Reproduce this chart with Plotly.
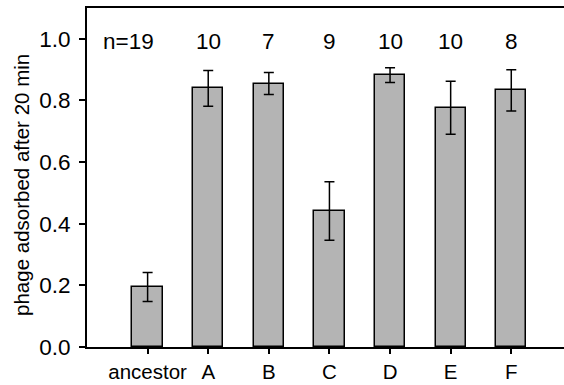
import plotly.graph_objects as go

# Phage adsorption after 20 min, ancestor vs evolved lines
categories = ["ancestor", "A", "B", "C", "D", "E", "F"]
adsorbed = [0.195, 0.839, 0.855, 0.441, 0.882, 0.776, 0.833]
err = [0.047, 0.058, 0.036, 0.095, 0.024, 0.086, 0.067]
n_reps = [19, 10, 7, 9, 10, 10, 8]
y_ticks = [0.0, 0.2, 0.4, 0.6, 0.8, 1.0]

FONT = "Liberation Sans, Arial, sans-serif"
xpos = list(range(len(categories)))

fig = go.Figure()
fig.add_trace(go.Bar(
    x=xpos, y=adsorbed, width=0.5,
    marker=dict(color="#b4b4b4", line=dict(color="black", width=1.5)),
    error_y=dict(type="data", array=err, symmetric=True,
                 color="black", thickness=1.5, width=5),
    showlegend=False,
))

# replicate counts above each bar
for i, n in enumerate(n_reps):
    if i == 0:
        fig.add_annotation(x=xpos[i], y=0.99, text=f"n={n}", showarrow=False,
                           xanchor="right", xshift=8, yanchor="middle",
                           font=dict(family=FONT, size=22.5, color="black"))
    else:
        fig.add_annotation(x=xpos[i], y=0.99, text=str(n), showarrow=False,
                           xanchor="center", yanchor="middle",
                           font=dict(family=FONT, size=22.5, color="black"))

# y-axis title
fig.add_annotation(xref="paper", yref="paper", x=0, y=0.478, xshift=-65,
                   text="phage adsorbed after 20 min", textangle=-90,
                   showarrow=False, xanchor="center", yanchor="middle",
                   font=dict(family=FONT, size=20.5, color="black"))

fig.update_layout(
    width=564, height=385,
    margin=dict(l=87, r=0, t=8, b=38),
    plot_bgcolor="white", paper_bgcolor="white",
    font=dict(family=FONT, size=20, color="black"),
    bargap=0,
)
fig.update_xaxes(
    range=[-1, 6.87], tickvals=xpos, ticktext=categories,
    showline=True, linecolor="black", linewidth=2, mirror=True,
    ticks="outside", ticklen=5, tickwidth=2, tickcolor="black",
    showgrid=False, zeroline=False, tickfont=dict(size=20.5),
)
fig.update_yaxes(
    range=[0, 1.1], tickvals=y_ticks, tickformat=".1f",
    showline=True, linecolor="black", linewidth=2,
    ticks="outside", ticklen=6, tickwidth=2, tickcolor="black",
    showgrid=False, zeroline=False, tickfont=dict(size=22.5),
    ticklabelstandoff=4,
)

fig.write_html("out.html")
